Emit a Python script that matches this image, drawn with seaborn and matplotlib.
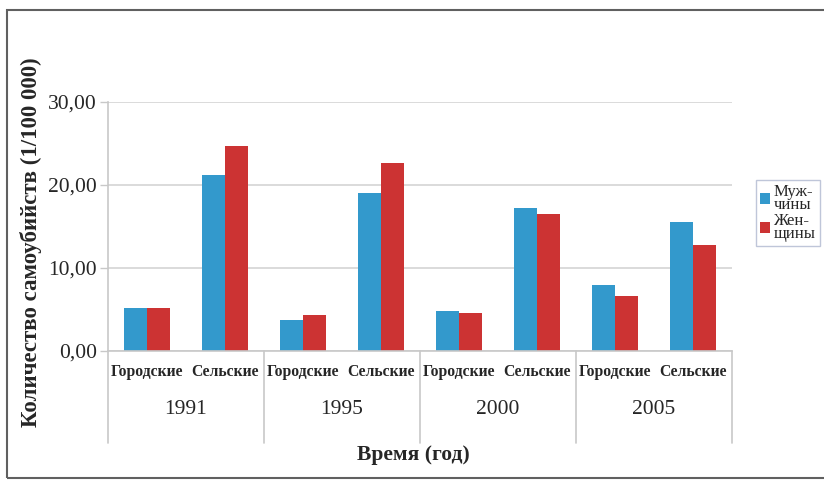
import matplotlib
matplotlib.use("Agg")
import matplotlib.pyplot as plt
import matplotlib.patches as mpatches
import seaborn as sns
import pandas as pd

years = ["1991", "1995", "2000", "2005"]
areas = ["Городские", "Сельские"]
series = ["Муж-\nчины", "Жен-\nщины"]
men = [5.2, 21.2, 3.7, 19.0, 4.8, 17.2, 7.95, 15.5]
women = [5.2, 24.7, 4.3, 22.65, 4.6, 16.5, 6.6, 12.8]
yticks = [0, 10, 20, 30]

cats = [f"{y} {a}" for y in years for a in areas]
df = pd.DataFrame({
    "cat": cats * 2,
    "sex": [series[0]] * len(cats) + [series[1]] * len(cats),
    "val": men + women,
})

sns.set_theme(style="white")
plt.rcParams['font.family'] = ['Liberation Serif', 'DejaVu Serif']

fig = plt.figure(figsize=(8.24, 4.82), dpi=100)
ax = fig.add_axes([108/824, 1-351/482, (732-108)/824, (351-102)/482])

blue = "#3399cc"
red = "#cc3333"
sns.barplot(data=df, x="cat", y="val", hue="sex", order=cats, hue_order=series,
            palette=[blue, red], width=0.58, saturation=1, ax=ax, legend=True,
            linewidth=0, edgecolor="none")

ax.set_ylim(0, 30)
ax.set_xlim(-0.5, len(cats) - 0.5)
ax.set_yticks(yticks)
ax.set_yticklabels([f"{v:.2f}".replace(".", ",") for v in yticks], fontsize=15.5)
ax.tick_params(axis="y", length=6, color="#c8c8c8", width=1, pad=2, left=True)
ax.yaxis.grid(True, color="#d4d4d4", linewidth=1.2)
ax.set_axisbelow(True)
ax.set_xticks(range(len(cats)))
ax.set_xticklabels([a for y in years for a in areas], fontsize=11.3, fontweight="bold")
ax.tick_params(axis="x", length=0, pad=9)
for s in ["top", "right"]:
    ax.spines[s].set_visible(False)
for s in ["left", "bottom"]:
    ax.spines[s].set_color("#c8c8c8")
    ax.spines[s].set_linewidth(1.2)

ax.set_xlabel("")
ax.set_ylabel("")
fig.text(31/824, 1-242/482, "Количество самоубийств (1/100 000)", rotation=90,
         ha="center", va="center", fontsize=16.5, fontweight="bold")

trans = ax.get_xaxis_transform()
for i in range(len(years) + 1):
    x = 2 * i - 0.5
    ax.plot([x, x], [0, -(443-351)/249], transform=trans, color="#c8c8c8",
            lw=1.2, clip_on=False)
for i, y in enumerate(years):
    ax.text(2 * i + 0.5, -(410-351)/249, y, transform=trans, ha="center",
            va="center", fontsize=15.5)

fig.text(413/824, 1-455/482, "Время (год)", ha="center", va="center",
         fontsize=15.5, fontweight="bold")

leg = ax.legend(loc="center left", bbox_to_anchor=(756/824, 1-213/482),
                bbox_transform=fig.transFigure, frameon=True, fontsize=12,
                handlelength=0.6, handleheight=0.6, handletextpad=0.2,
                labelspacing=0.0, borderpad=0.25, borderaxespad=0,
                fancybox=False)
leg.get_frame().set_edgecolor("#b0b8d0")
leg.get_frame().set_linewidth(1)
for t in leg.get_texts():
    t.set_linespacing(0.75)

fig.add_artist(mpatches.Rectangle((7/824, 4/482), 1.0, 1-14/482,
                                  transform=fig.transFigure, fill=False,
                                  edgecolor="#606060", linewidth=1.5))

fig.savefig("out.png", dpi=100)
